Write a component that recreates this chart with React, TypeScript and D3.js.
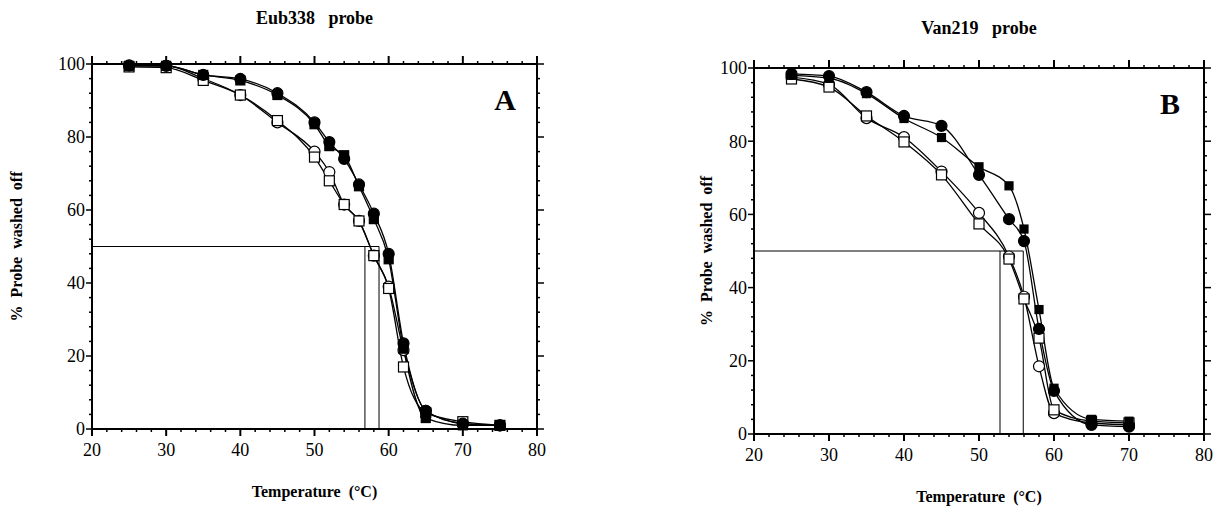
import React from 'react';
import * as d3 from 'd3';

// ---------- data ----------
const tempsA = [25, 30, 35, 40, 45, 50, 52, 54, 56, 58, 60, 62, 65, 70, 75];
const aFilledCircle = [99.6, 99.5, 97, 95.9, 92, 84, 78.6, 74, 67, 59, 48, 23.5, 5, 1.5, 1];
const aFilledSquare = [99.5, 99.5, 97, 95.5, 91.5, 83.5, 77.5, 75, 66.5, 57.5, 46.5, 22, 3, 1, 1];
const aOpenCircle = [99.5, 99.5, 96, 91.5, 84, 76, 70.4, 61.5, 57, 47.5, 39, 21.6, 5, 1.5, 1];
const aOpenSquare = [99.2, 99, 95.5, 91.5, 84.5, 74.5, 68, 61.5, 57, 47.5, 38.5, 17, 4.5, 2, 1];
const tmA = [56.8, 58.7];

const tempsB = [25, 30, 35, 40, 45, 50, 54, 56, 58, 60, 65, 70];
const bFilledCircle = [98.4, 97.8, 93.4, 86.9, 84.2, 70.8, 58.7, 52.7, 28.7, 11.8, 2.5, 2];
const bFilledSquare = [98, 97.2, 93, 86.2, 81, 73, 67.8, 56, 34, 12.5, 4, 3.5];
const bOpenCircle = [97.5, 95.5, 86.3, 81.1, 71.7, 60.4, 48.5, 37.5, 18.5, 5.7, 3, 2.5];
const bOpenSquare = [97, 94.8, 86.9, 79.8, 70.8, 57.4, 47.8, 36.9, 26.2, 6.6, 3.5, 3];
const tmB = [52.8, 55.9];

const xTicks = [20, 30, 40, 50, 60, 70, 80];
const yTicks = [0, 20, 40, 60, 80, 100];

type Series = { values: number[]; shape: 'circle' | 'square'; filled: boolean; size?: number };

const FONT = 'Liberation Serif, Times New Roman, serif';

function Panel(props: {
  x0: number; x1: number; y0: number; y1: number;
  temps: number[]; series: Series[]; tm: number[];
  title: string; titleY: number; letter: string; letterX: number; letterY: number;
  ylabelX: number; xlabelY: number; tickLabelY: number;
}) {
  const { x0, x1, y0, y1, temps, series, tm } = props;
  const x = d3.scaleLinear().domain([20, 80]).range([x0, x1]);
  const y = d3.scaleLinear().domain([0, 100]).range([y0, y1]);
  const line = d3.line<[number, number]>().x(d => x(d[0])).y(d => y(d[1])).curve(d3.curveMonotoneX);
  const minorX = d3.range(20, 80.01, 2).filter(v => v % 10 !== 0);
  const minorY = d3.range(0, 100.01, 4).filter(v => v % 20 !== 0);
  const cx = (x0 + x1) / 2;
  const cy = (y0 + y1) / 2;
  return (
    <g>
      <text x={cx} y={props.titleY} textAnchor="middle" fontFamily={FONT} fontWeight="bold" fontSize={18} style={{ whiteSpace: 'pre' }}>{props.title}</text>
      {/* frame */}
      <rect x={x0} y={y1} width={x1 - x0} height={y0 - y1} fill="none" stroke="#000" strokeWidth={2} />
      {/* ticks */}
      {xTicks.map(v => (
        <g key={'xt' + v}>
          <line x1={x(v)} x2={x(v)} y1={y0} y2={y0 + 7} stroke="#000" strokeWidth={2} />
          <line x1={x(v)} x2={x(v)} y1={y1} y2={y1 - 8} stroke="#000" strokeWidth={2} />
          <text x={x(v)} y={props.tickLabelY} textAnchor="middle" fontFamily={FONT} fontSize={18}>{v}</text>
        </g>
      ))}
      {minorX.map(v => (
        <g key={'xm' + v}>
          <line x1={x(v)} x2={x(v)} y1={y0} y2={y0 + 3} stroke="#000" strokeWidth={1.5} />
          <line x1={x(v)} x2={x(v)} y1={y1} y2={y1 - 3} stroke="#000" strokeWidth={1.5} />
        </g>
      ))}
      {yTicks.map(v => (
        <g key={'yt' + v}>
          <line x1={x0} x2={x0 - 6} y1={y(v)} y2={y(v)} stroke="#000" strokeWidth={1.5} />
          <line x1={x1} x2={x1 + 7} y1={y(v)} y2={y(v)} stroke="#000" strokeWidth={1.5} />
          <text x={x0 - 7} y={y(v)} dy="0.35em" textAnchor="end" fontFamily={FONT} fontSize={18}>{v}</text>
        </g>
      ))}
      {minorY.map(v => (
        <g key={'ym' + v}>
          <line x1={x0} x2={x0 - 3} y1={y(v)} y2={y(v)} stroke="#000" strokeWidth={1.5} />
          <line x1={x1} x2={x1 + 3} y1={y(v)} y2={y(v)} stroke="#000" strokeWidth={1.5} />
        </g>
      ))}
      {/* 50% lines */}
      <line x1={x0} x2={x(tm[1])} y1={y(50)} y2={y(50)} stroke="#000" strokeWidth={1} />
      {tm.map((t, i) => (
        <line key={'tm' + i} x1={x(t)} x2={x(t)} y1={y(50)} y2={y0} stroke="#000" strokeWidth={1} />
      ))}
      {/* curves */}
      {series.map((s, i) => (
        <path key={'c' + i} d={line(temps.map((t, j) => [t, s.values[j]]) as [number, number][]) || ''}
          fill="none" stroke="#000" strokeWidth={1.3} />
      ))}
      {/* markers */}
      {series.map((s, i) => (
        <g key={'m' + i}>
          {temps.map((t, j) => {
            const px = x(t), py = y(s.values[j]);
            const sz = s.size ?? 10;
            return s.shape === 'circle' ? (
              <circle key={j} cx={px} cy={py} r={sz / 2} fill={s.filled ? '#000' : '#fff'} stroke="#000" strokeWidth={1.2} />
            ) : (
              <rect key={j} x={px - sz / 2} y={py - sz / 2} width={sz} height={sz} fill={s.filled ? '#000' : '#fff'} stroke="#000" strokeWidth={1.2} />
            );
          })}
        </g>
      ))}
      <text x={props.letterX} y={props.letterY} textAnchor="middle" fontFamily={FONT} fontWeight="bold" fontSize={30}>{props.letter}</text>
      <text transform={`translate(${props.ylabelX},${cy}) rotate(-90)`} textAnchor="middle" fontFamily={FONT} fontWeight="bold" fontSize={16} style={{ whiteSpace: 'pre' }}>{'%  Probe  washed  off'}</text>
      <text x={cx} y={props.xlabelY} textAnchor="middle" fontFamily={FONT} fontWeight="bold" fontSize={16} style={{ whiteSpace: 'pre' }}>{'Temperature  (°C)'}</text>
    </g>
  );
}

export default function App() {
  const seriesA: Series[] = [
    { values: aOpenCircle, shape: 'circle', filled: false, size: 11 },
    { values: aOpenSquare, shape: 'square', filled: false },
    { values: aFilledSquare, shape: 'square', filled: true, size: 9 },
    { values: aFilledCircle, shape: 'circle', filled: true, size: 11 },
  ];
  const seriesB: Series[] = [
    { values: bOpenCircle, shape: 'circle', filled: false, size: 11 },
    { values: bOpenSquare, shape: 'square', filled: false },
    { values: bFilledSquare, shape: 'square', filled: true, size: 8 },
    { values: bFilledCircle, shape: 'circle', filled: true, size: 11 },
  ];
  return (
    <svg width={1214} height={507} style={{ position: 'absolute', left: 0, top: 0, background: '#fff' }}>
      <Panel x0={92} x1={537} y0={429} y1={64} temps={tempsA} series={seriesA} tm={tmA}
        title={'Eub338   probe'} titleY={24} letter="A" letterX={505} letterY={110}
        ylabelX={22} xlabelY={497} tickLabelY={456} />
      <Panel x0={754} x1={1204} y0={434} y1={68} temps={tempsB} series={seriesB} tm={tmB}
        title={'Van219   probe'} titleY={34} letter="B" letterX={1170} letterY={114}
        ylabelX={712} xlabelY={502} tickLabelY={461} />
    </svg>
  );
}
